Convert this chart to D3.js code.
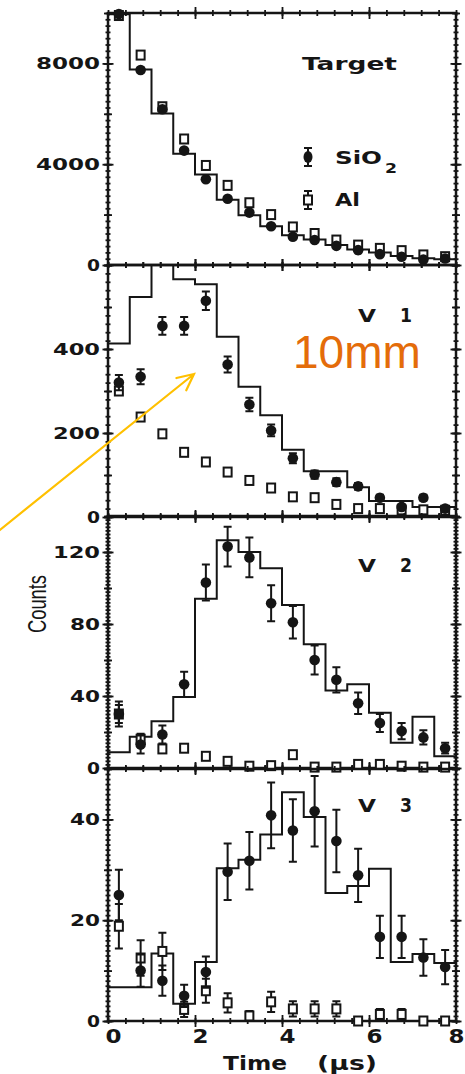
<!DOCTYPE html>
<html>
<head>
<meta charset="utf-8">
<script src="https://cdn.jsdelivr.net/npm/d3@7"></script>
<style>
body{margin:0;background:#fff}
svg{display:block}
</style>
</head>
<body>
<div id="chart"></div>
<script>
const binEdges=[0,0.5,1,1.5,2,2.5,3,3.5,4,4.5,5,5.5,6,6.5,7,7.5,8];
const binMid=[0.25,0.75,1.25,1.75,2.25,2.75,3.25,3.75,4.25,4.75,5.25,5.75,6.25,6.75,7.25,7.75];
const xTickLabels=[0,2,4,6,8];

const panelLabels=["Target","1","2","3"];
const panelMax=[10000,600,140,50];
const panelTickLabels=[[0,4000,8000],[0,200,400],[0,40,80,120],[0,20,40]];
const panelMidStep=[2000,100,20,10];
const panelMinorStep=[250,20,2,1];

const targetFit=[9950,7760,6010,4410,3590,2590,1970,1540,1180,1010,790,620,500,355,265,225];
const targetSiO2=[9960,7740,6180,4540,3400,2630,2080,1540,1120,990,760,590,430,330,220,260];
const targetSiO2Err=[100,88,79,67,58,51,46,39,33,31,28,24,21,18,15,16];
const targetAl=[9900,8330,6280,5000,3950,3160,2470,2000,1510,1250,990,790,660,570,400,330];
const targetAlErr=[100,91,79,71,63,56,50,45,39,35,31,28,26,24,20,18];

const v1Fit=[413,524,650,566,554,429,310,242,160,109,109,71,38,38,24,24];
const v1SiO2=[320,334,455,455,515,363,268,206,140,101,83,73,46,24,46,20];
const v1SiO2Err=[18,18,21,21,22,19,16,14,12,10,9,8,7,5,7,4];
const v1Al=[300,238,198,154,131,107,87,69,48,46,30,20,20,17,17,16];
const v1AlErr=[9,8,7,6,6,5,5,4,4,4,3,3,3,3,3,3];

const v2Fit=[8.7,17.3,26,39.4,94,126.5,120,111,90.6,68.8,43,46.5,30.7,14,28.5,6.5];
const v2SiO2=[30,13,18.6,46.5,103,123,117,91.5,81,60,49,36,25,20.5,17,11];
const v2SiO2Err=[7,5,5,7,10,11,11,10,9,8,7,6,5,4.5,4,3];
const v2Al=[30,16,10.6,11,6.5,3.7,1,1.3,7.4,0.5,0.5,2,2,1,0.5,0.5];
const v2AlErr=[5,3,2,2,1.5,1,0.5,0.5,1.5,0.3,0.3,0.5,0.5,0.3,0.3,0.3];

const v3Fit=[6.7,6.7,13.4,3.4,11.7,30.3,32,37,45.4,40.5,25.4,26.8,30.2,11.7,13.3,11.5];
const v3SiO2=[25,10,8,5,9.7,29.6,31.8,40.8,37.8,41.6,35.7,28.9,16.7,16.7,12.6,10.7];
const v3SiO2Err=[5,3.2,3,2.2,3.1,5.6,5.7,6.5,6.2,7,6.2,5.3,4.2,4.2,3.6,3.4];
const v3Al=[18.8,12.5,13.8,2.3,6,3.6,1,3.8,2.4,2.4,2.4,0,1.3,1.3,0,0];
const v3AlErr=[4.4,3.5,3.7,1.5,2.4,1.9,1,2,1.5,1.5,1.5,0,1.1,1.1,0,0];

const fits=[targetFit,v1Fit,v2Fit,v3Fit];
const sio2=[targetSiO2,v1SiO2,v2SiO2,v3SiO2];
const sio2Err=[targetSiO2Err,v1SiO2Err,v2SiO2Err,v3SiO2Err];
const al=[targetAl,v1Al,v2Al,v3Al];
const alErr=[targetAlErr,v1AlErr,v2AlErr,v3AlErr];

const w=465, h=1074;
const left=108, right=456;
const bottoms=[265,517,768,1021];
const panelH=252;
const ink="#151515";
const font="'DejaVu Sans', sans-serif";

const svg=d3.select("#chart").append("svg").attr("width",w).attr("height",h);
svg.append("rect").attr("width",w).attr("height",h).attr("fill","#fff");

const x=d3.scaleLinear().domain([0,8]).range([left,right]);

function crossTicks(g, orient, pos, scale, values, size){
  const a=orient==="y"?[d3.axisLeft,d3.axisRight]:[d3.axisTop,d3.axisBottom];
  a.forEach(fn=>{
    const t=g.append("g")
      .attr("transform",orient==="y"?`translate(${pos},0)`:`translate(0,${pos})`)
      .attr("color",ink)
      .call(fn(scale).tickValues(values).tickSize(size).tickFormat(""));
    t.select(".domain").remove();
    t.selectAll("line").attr("stroke-width",1.8);
  });
}

function errorBars(g, y, vals, errs){
  g.append("g").selectAll("path")
    .data(binMid.map((m,k)=>({m:m, v:vals[k], e:errs[k]})).filter(d=>d.e>0))
    .join("path")
    .attr("d",d=>{
      const cx=x(d.m), y1=y(d.v+d.e), y0=y(Math.max(0,d.v-d.e));
      return `M${cx-4},${y1}H${cx+4}M${cx},${y1}V${y0}M${cx-4},${y0}H${cx+4}`;
    })
    .attr("fill","none").attr("stroke",ink).attr("stroke-width",2);
}

const stepLine=d3.line().curve(d3.curveStepAfter);

panelMax.forEach((max,i)=>{
  const bottom=bottoms[i], top=bottom-panelH;
  const y=d3.scaleLinear().domain([0,max]).range([bottom,top]);
  const g=svg.append("g");

  svg.append("clipPath").attr("id","clip"+i)
    .append("rect").attr("x",left).attr("y",top).attr("width",right-left).attr("height",panelH);

  g.append("path")
    .datum(binEdges.map((e,k)=>[x(e),y(fits[i][Math.min(k,fits[i].length-1)])]))
    .attr("clip-path",`url(#clip${i})`)
    .attr("fill","none").attr("stroke",ink).attr("stroke-width",2)
    .attr("d",stepLine);

  // ticks on all four sides, crossing the frame
  const minor=d3.range(0,max+1e-9,panelMinorStep[i]);
  const mid=d3.range(0,max+1e-9,panelMidStep[i]);
  [left,right].forEach(px=>{
    crossTicks(g,"y",px,y,minor,2.5);
    crossTicks(g,"y",px,y,mid,4);
    crossTicks(g,"y",px,y,panelTickLabels[i],5.5);
  });
  [top,bottom].forEach(py=>{
    crossTicks(g,"x",py,x,d3.range(0,8.01,0.4),3);
    crossTicks(g,"x",py,x,[2,4,6],6);
  });

  g.append("rect")
    .attr("x",left).attr("y",top).attr("width",right-left).attr("height",panelH)
    .attr("fill","none").attr("stroke",ink).attr("stroke-width",2.5);

  const yAxis=g.append("g").attr("transform",`translate(${left},0)`)
    .call(d3.axisLeft(y).tickValues(panelTickLabels[i]).tickFormat(d3.format("d")).tickSize(0).tickPadding(8));
  yAxis.select(".domain").remove();
  yAxis.selectAll("text")
    .attr("fill",ink).style("font-family",font).style("font-weight","bold").style("font-size","16px")
    .attr("textLength",d=>String(d).length*17-4).attr("lengthAdjust","spacingAndGlyphs");

  // Al (open squares) then SiO2 (filled circles)
  errorBars(g,y,al[i],alErr[i]);
  g.append("g").selectAll("rect")
    .data(binMid.map((m,k)=>[m,al[i][k]]))
    .join("rect")
    .attr("x",d=>x(d[0])-4).attr("y",d=>y(d[1])-4.5)
    .attr("width",8).attr("height",9)
    .attr("fill","#fff").attr("stroke",ink).attr("stroke-width",2);

  errorBars(g,y,sio2[i],sio2Err[i]);
  g.append("g").selectAll("circle")
    .data(binMid.map((m,k)=>[m,sio2[i][k]]))
    .join("circle")
    .attr("cx",d=>x(d[0])).attr("cy",d=>y(d[1]))
    .attr("r",5.3).attr("fill",ink);

  if(i===0){
    g.append("text").text(panelLabels[i])
      .attr("x",302).attr("y",70)
      .style("font-family",font).style("font-weight","bold").style("font-size","17px").attr("fill",ink)
      .attr("textLength",95).attr("lengthAdjust","spacingAndGlyphs");
  }else{
    const by=[0,322,572,812][i];
    g.append("text").text("V")
      .attr("x",358).attr("y",by)
      .style("font-family",font).style("font-weight","bold").style("font-size","17px").attr("fill",ink)
      .attr("textLength",18).attr("lengthAdjust","spacingAndGlyphs");
    g.append("text").text(panelLabels[i])
      .attr("x",400).attr("y",by)
      .style("font-family",font).style("font-weight","bold").style("font-size","19px").attr("fill",ink)
      .attr("textLength",12).attr("lengthAdjust","spacingAndGlyphs");
  }

  if(i===3){
    const xAxis=g.append("g").attr("transform",`translate(0,${bottom})`)
      .call(d3.axisBottom(x).tickValues(xTickLabels).tickSize(0).tickPadding(8));
    xAxis.select(".domain").remove();
    xAxis.selectAll("text")
      .attr("fill",ink).attr("dx",d=>d===8?0:5)
      .style("font-family",font).style("font-weight","bold").style("font-size","20px")
      .attr("textLength",16).attr("lengthAdjust","spacingAndGlyphs");
  }
});

// legend
const legend=svg.append("g");
legend.append("path").attr("d","M304,148H312M308,148V166M304,166H312")
  .attr("stroke",ink).attr("stroke-width",2).attr("fill","none");
legend.append("ellipse").attr("cx",308).attr("cy",157).attr("rx",4.5).attr("ry",6).attr("fill",ink);
legend.append("path").attr("d","M304,191H312M308,191V209M304,209H312")
  .attr("stroke",ink).attr("stroke-width",2).attr("fill","none");
legend.append("rect").attr("x",304).attr("y",195.5).attr("width",8).attr("height",9)
  .attr("fill","#fff").attr("stroke",ink).attr("stroke-width",2);
const lt=(t,xx,yy,len,size)=>legend.append("text").text(t).attr("x",xx).attr("y",yy)
  .style("font-family",font).style("font-weight","bold").style("font-size",size+"px").attr("fill",ink)
  .attr("textLength",len).attr("lengthAdjust","spacingAndGlyphs");
lt("SiO",335,164,47,17);
lt("2",385,173,12,14);
lt("Al",335,206,25,17);

// axis titles
svg.append("text").text("Time")
  .attr("x",223).attr("y",1070)
  .style("font-family",font).style("font-weight","bold").style("font-size","20px").attr("fill",ink)
  .attr("textLength",64).attr("lengthAdjust","spacingAndGlyphs");
svg.append("text").text("(\u03bcs)")
  .attr("x",317).attr("y",1070)
  .style("font-family",font).style("font-weight","bold").style("font-size","20px").attr("fill",ink)
  .attr("textLength",60).attr("lengthAdjust","spacingAndGlyphs");
svg.append("text").text("Counts")
  .attr("transform","translate(46,604) rotate(-90)")
  .attr("text-anchor","middle")
  .style("font-family","'Liberation Sans', Arial, sans-serif").style("font-size","26px").attr("fill",ink)
  .attr("textLength",58).attr("lengthAdjust","spacingAndGlyphs");

// annotation
svg.append("text").text("10mm")
  .attr("x",293).attr("y",368)
  .style("font-family","'Liberation Sans', Arial, sans-serif").style("font-size","46px")
  .attr("fill","#E46C0A");

const gold="#FFC000";
const ax0=-4, ay0=533, ax1=194, ay1=374;
const ang=Math.atan2(ay1-ay0,ax1-ax0);
const wing=a=>[ax1-18*Math.cos(ang+a), ay1-18*Math.sin(ang+a)];
const w1=wing(0.45), w2=wing(-0.45);
svg.append("path")
  .attr("d",`M${ax0},${ay0}L${ax1},${ay1}M${w1[0]},${w1[1]}L${ax1},${ay1}L${w2[0]},${w2[1]}`)
  .attr("fill","none").attr("stroke",gold).attr("stroke-width",2.2).attr("stroke-linecap","round");
</script>
</body>
</html>
